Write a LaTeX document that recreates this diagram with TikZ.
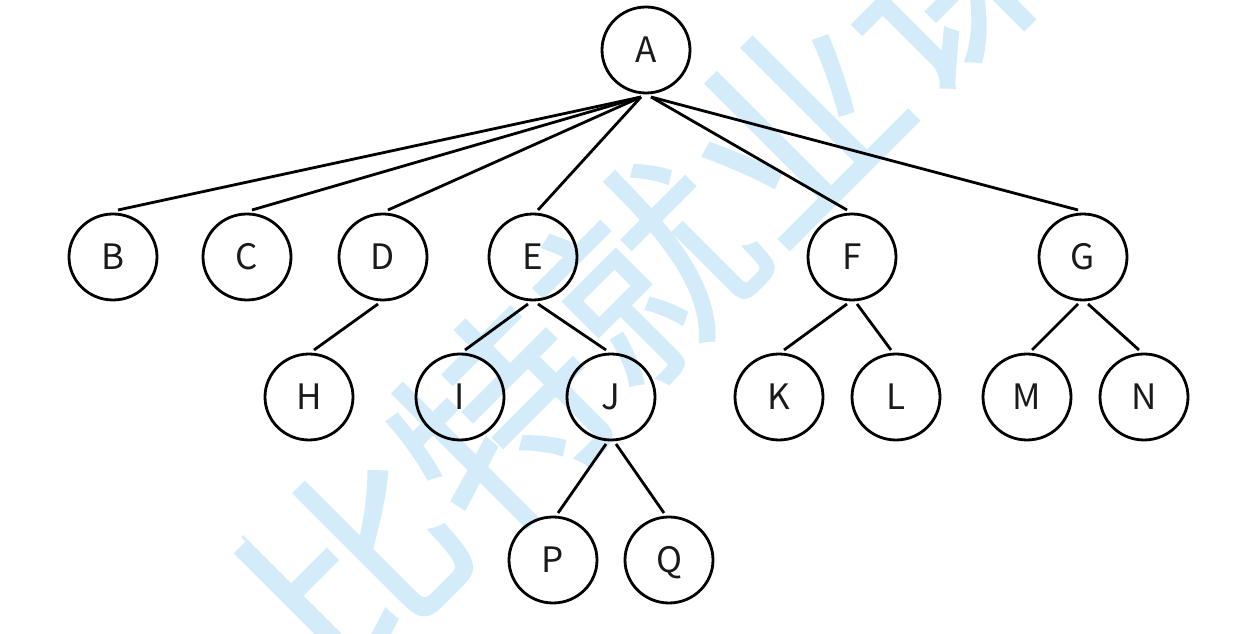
\documentclass[tikz,border=0pt]{standalone}
\usepackage{fontspec}
\setmainfont{Noto Sans CJK SC}
\newfontfamily\cjk[FakeBold=1]{Noto Sans CJK SC}
\usetikzlibrary{calc,shapes.geometric}
\definecolor{wmblue}{RGB}{212,236,249}
\definecolor{ink}{RGB}{26,26,26}
\tikzset{
  tnode/.style={ellipse, draw=black, line width=2.8pt, minimum width=88pt, minimum height=86pt,
    inner sep=0pt, text=ink, font=\fontsize{35}{35}\selectfont, text height=25.6pt, text depth=0pt},
  edge/.style={draw=black, line width=2.8pt},
  wmark/.style={text=wmblue, font=\cjk\fontsize{207}{207}\selectfont, rotate=45, inner sep=0pt}
}
\newcommand\lnk[2]{\draw[edge] ($(#1.center)+(-5,-47)$) -- ($(#2.center)+(5,47)$);}
\newcommand\rnk[2]{\draw[edge] ($(#1.center)+(5,-47)$) -- ($(#2.center)+(-5,47)$);}
\begin{document}
\begin{tikzpicture}[x=1pt,y=1pt]
\useasboundingbox (0,0) rectangle (1252,634);
% watermark
\node[wmark] (wm) at (648,362) {比特就业课};
\coordinate (wl1) at (242,98);
\coordinate (wl2) at (340,0);
\draw[wmblue, line width=2.7pt] (wl1) -- (wl2);
% nodes
\node[tnode] (A) at (646,584) {A};
\node[tnode] (B) at (113,377) {B};
\node[tnode] (C) at (247,377) {C};
\node[tnode] (D) at (383,377) {D};
\node[tnode] (E) at (533,377) {E};
\node[tnode] (F) at (852,377) {F};
\node[tnode] (G) at (1083,377) {G};
\node[tnode] (H) at (309,237) {H};
\node[tnode] (I) at (460,237) {I};
\node[tnode] (J) at (611,237) {J};
\node[tnode] (K) at (779,237) {K};
\node[tnode] (L) at (896,237) {L};
\node[tnode] (M) at (1027,237) {M};
\node[tnode] (N) at (1144,237) {N};
\node[tnode] (P) at (553,74) {P};
\node[tnode] (Q) at (669,74) {Q};
% edges
\lnk{A}{B}
\lnk{A}{C}
\lnk{A}{D}
\lnk{A}{E}
\rnk{A}{F}
\rnk{A}{G}
\lnk{D}{H}
\lnk{E}{I}
\rnk{E}{J}
\lnk{J}{P}
\rnk{J}{Q}
\lnk{F}{K}
\rnk{F}{L}
\lnk{G}{M}
\rnk{G}{N}
\end{tikzpicture}
\end{document}
